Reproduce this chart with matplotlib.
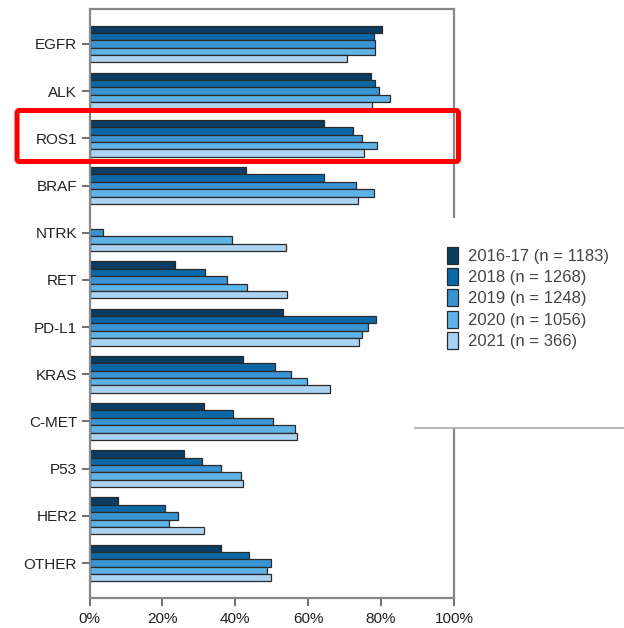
import matplotlib
matplotlib.use("Agg")
import matplotlib.pyplot as plt
import numpy as np
from matplotlib.patches import Rectangle, FancyBboxPatch
from matplotlib.lines import Line2D

categories = ["EGFR", "ALK", "ROS1", "BRAF", "NTRK", "RET", "PD-L1", "KRAS", "C-MET", "P53", "HER2", "OTHER"]
series_labels = ["2016-17 (n = 1183)", "2018 (n = 1268)", "2019 (n = 1248)", "2020 (n = 1056)", "2021 (n = 366)"]
v2016_17 = [80.3, 77.1, 64.2, 42.9, 0.0, 23.5, 53.0, 42.1, 31.3, 26.0, 7.9, 36.0]
v2018 = [78.0, 78.2, 72.3, 64.2, 0.0, 31.7, 78.6, 51.0, 39.3, 30.9, 20.6, 43.8]
v2019 = [78.4, 79.5, 74.8, 73.1, 3.8, 37.7, 76.3, 55.3, 50.3, 36.0, 24.2, 49.8]
v2020 = [78.4, 82.4, 78.9, 78.0, 39.2, 43.2, 74.8, 59.7, 56.3, 41.5, 21.7, 48.7]
v2021 = [70.6, 77.5, 75.2, 73.6, 54.0, 54.2, 74.0, 66.1, 56.9, 42.0, 31.5, 49.8]
xticks = [0, 20, 40, 60, 80, 100]
xtick_labels = ["0%", "20%", "40%", "60%", "80%", "100%"]

colors = ["#0b3d63", "#0b68a8", "#3a93d3", "#5db3e6", "#a9d3f1"]
series = [v2016_17, v2018, v2019, v2020, v2021]

plt.rcParams['font.family'] = ['Liberation Sans', 'DejaVu Sans']

W, H = 624, 628
fig = plt.figure(figsize=(W / 100, H / 100), dpi=100)
ax = fig.add_axes([89.5 / W, 1 - 598 / H, (454 - 89.5) / W, (598 - 9) / H])

n = len(series)
bh = 0.156
y = np.arange(len(categories))
handles = []
for i, (vals, c, lab) in enumerate(zip(series, colors, series_labels)):
    offs = (i - (n - 1) / 2) * bh
    vals_arr = np.array(vals)
    mask = vals_arr > 0
    b = ax.barh(y[mask] + offs, vals_arr[mask], height=bh, color=c,
                edgecolor="#2a2a2a", linewidth=0.9, label=lab)
    handles.append(b)

ax.set_xlim(0, 100)
ax.set_ylim(len(categories) - 1 + 0.74, -0.74)
ax.set_yticks(y)
ax.set_yticklabels(categories, fontsize=11, color="#333333")
ax.set_xticks(xticks)
ax.set_xticklabels(xtick_labels, fontsize=11, color="#333333")
for s in ax.spines.values():
    s.set_color("#888888")
    s.set_linewidth(1.6)
ax.tick_params(axis="both", colors="#555555", length=6, width=1.2, labelcolor="#222222")
ax.tick_params(axis="y", pad=3)
ax.tick_params(axis="x", pad=4)

# white patch covering the right side where legend sits
fig.patches.append(Rectangle((415 / W, 1 - 428 / H), (W - 415) / W, (428 - 218) / H,
                             transform=fig.transFigure, facecolor="white", edgecolor="none", zorder=5))
fig.lines.append(Line2D([415 / W, 1.0], [1 - 428 / H, 1 - 428 / H], transform=fig.transFigure,
                        color="#aaaaaa", linewidth=1.2, zorder=6))

leg = fig.legend(handles=handles, labels=series_labels, loc="upper left",
                 bbox_to_anchor=(440 / W, 1 - 240 / H), frameon=False, fontsize=12,
                 handlelength=0.7, handleheight=1.2, handletextpad=0.6, labelspacing=0.25,
                 borderaxespad=0)
leg.set_zorder(7)
for t in leg.get_texts():
    t.set_color("#444444")

# red highlight box around ROS1
fig.patches.append(FancyBboxPatch((17 / W, 1 - 161.5 / H), (458.5 - 17) / W, (161.5 - 110.5) / H,
                                  boxstyle="round,pad=0,rounding_size=0.004",
                                  transform=fig.transFigure, facecolor="none", edgecolor="#ff0000",
                                  linewidth=3.6, zorder=8))

fig.savefig("out.png", dpi=100)
